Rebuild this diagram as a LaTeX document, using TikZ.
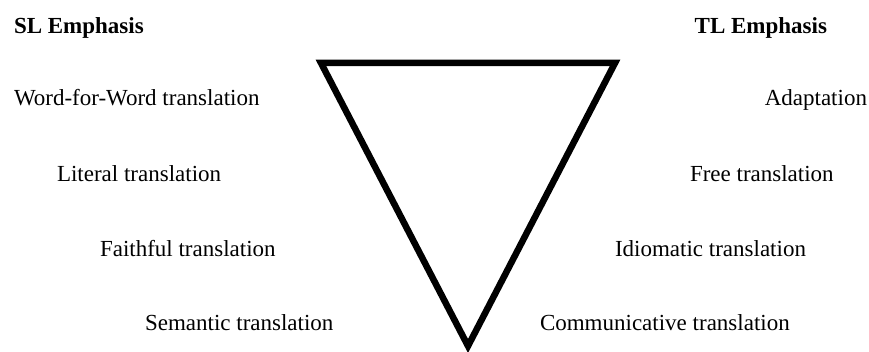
\documentclass[tikz,border=0pt]{standalone}
\usepackage{fontspec}
\setmainfont{Liberation Serif}
\begin{document}
\begin{tikzpicture}[x=1pt,y=-1pt,
  lbl/.style={inner sep=0pt,outer sep=0pt,font=\fontsize{23}{27}\selectfont},
  head/.style={lbl,font=\fontsize{23}{27}\selectfont\bfseries},
  vshape/.style={line width=6.5pt,line join=miter,draw=black}]
\useasboundingbox (0,0) rectangle (869,352);
% headings
\node[head,anchor=base west] (sl) at (14,34) {SL Emphasis};
\node[head,anchor=base east] (tl) at (827,34) {TL Emphasis};
% left column
\node[lbl,anchor=base west] (ww) at (14,106) {Word-for-Word translation};
\node[lbl,anchor=base west] (lit) at (57,182) {Literal translation};
\node[lbl,anchor=base west] (fai) at (100,257) {Faithful translation};
\node[lbl,anchor=base west] (sem) at (145,330) {Semantic translation};
% right column
\node[lbl,anchor=base east] (ada) at (867,106) {Adaptation};
\node[lbl,anchor=base west] (fre) at (690,182) {Free translation};
\node[lbl,anchor=base west] (idi) at (615,257) {Idiomatic translation};
\node[lbl,anchor=base west] (com) at (540,330) {Communicative translation};
% V triangle
\coordinate (tl0) at (321,63);
\coordinate (tr0) at (615,63);
\coordinate (ap) at (468,346);
\draw[vshape] (tl0) -- (tr0) -- (ap) -- cycle;
\end{tikzpicture}
\end{document}
